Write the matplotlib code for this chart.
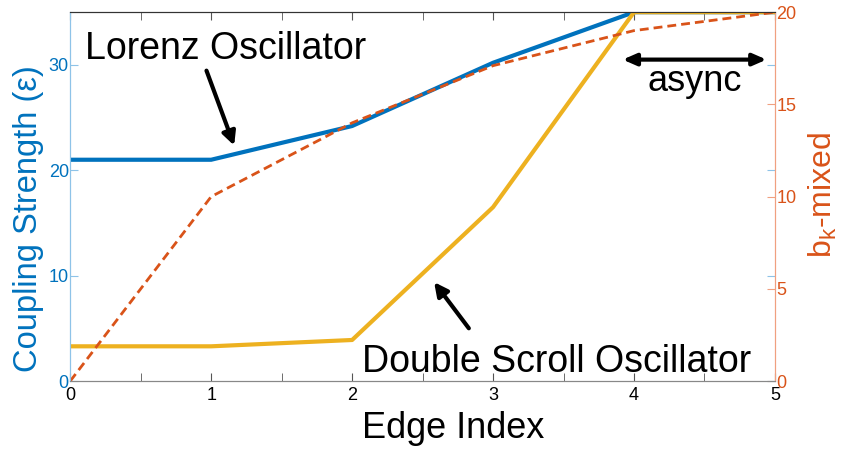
import numpy as np
import matplotlib
matplotlib.use("Agg")
import matplotlib.pyplot as plt

plt.rcParams['font.family'] = ['Liberation Sans', 'DejaVu Sans']
plt.rcParams['mathtext.fontset'] = 'custom'
plt.rcParams['mathtext.rm'] = 'Liberation Sans'

# data
edge = [0, 1, 2, 3, 4, 5]
lorenz = [21, 21, 24.2, 30.2, 35, 35]
dscroll = [3.3, 3.3, 3.9, 16.5, 35, 35]
bk_mixed = [0, 10, 14, 17.1, 19, 20]

blue = '#0072BD'
orange = '#D95319'
yellow = '#EDB120'

fig = plt.figure(figsize=(8.46, 4.51), dpi=100)
ax = fig.add_axes([0.083, 0.155, 0.833, 0.818])
ax2 = ax.twinx()

ax.plot(edge, lorenz, color=blue, lw=3, zorder=3)
ax.plot(edge, dscroll, color=yellow, lw=3, zorder=3)
ax2.plot(edge, bk_mixed, color=orange, lw=2, ls=(0, (3.2, 1.8)))

ax.set_xlim(0, 5)
ax.set_ylim(0, 35)
ax2.set_ylim(0, 20)
ax.set_xticks(range(6))
ax.set_xticks(np.arange(0.5, 5, 1), minor=True)
ax.set_yticks([0, 10, 20, 30])
ax2.set_yticks([0, 5, 10, 15, 20])

ax.tick_params(axis='x', direction='in', top=True, length=6, labelsize=13, pad=4, color='#555555')
ax.tick_params(axis='x', which='minor', direction='in', top=True, length=6, color='#555555')
ax.tick_params(axis='y', direction='in', right=True, length=6, labelsize=13, pad=1,
               colors=blue)
ax.tick_params(axis='y', color='#8EC3E8')
ax2.tick_params(axis='y', direction='in', length=6, labelsize=13, pad=1, colors=orange)
ax2.tick_params(axis='y', color='#F0A080')

for a in (ax, ax2):
    a.spines['top'].set_color('#333333')
    a.spines['bottom'].set_color('#888888')
    a.spines['left'].set_color('#8EC3E8')
    a.spines['right'].set_color('#F0A080')

ax.set_xlabel('Edge Index', fontsize=26)
ax.xaxis.set_label_coords(0.543, -0.08)
ax.set_ylabel('Coupling Strength (ε)', fontsize=23.5, color=blue)
ax.yaxis.set_label_coords(-0.037, 0.44)
ax2.set_ylabel(r'$\mathregular{b_k}$-mixed', fontsize=23, color=orange)
ax2.yaxis.set_label_coords(1.045, 0.504)

ax.text(0.106, 30.56, 'Lorenz Oscillator', fontsize=27, va='baseline', ha='left', zorder=5)
ax.annotate('', xy=(1.17, 22.1), xytext=(0.96, 29.7),
            arrowprops=dict(arrowstyle='-|>,head_length=0.8,head_width=0.4', lw=3, color='black'))
ax.text(2.07, 0.85, 'Double Scroll Oscillator', fontsize=27, va='baseline', ha='left', zorder=5)
ax.annotate('', xy=(2.57, 9.6), xytext=(2.84, 4.8),
            arrowprops=dict(arrowstyle='-|>,head_length=0.8,head_width=0.4', lw=3, color='black'))
ax.annotate('', xy=(4.96, 30.5), xytext=(3.9, 30.5),
            arrowprops=dict(arrowstyle='<|-|>,head_length=0.8,head_width=0.35', lw=3, color='black'))
ax.text(4.43, 27.5, 'async', fontsize=26, va='baseline', ha='center', zorder=5)

fig.savefig('out.png', dpi=100)
